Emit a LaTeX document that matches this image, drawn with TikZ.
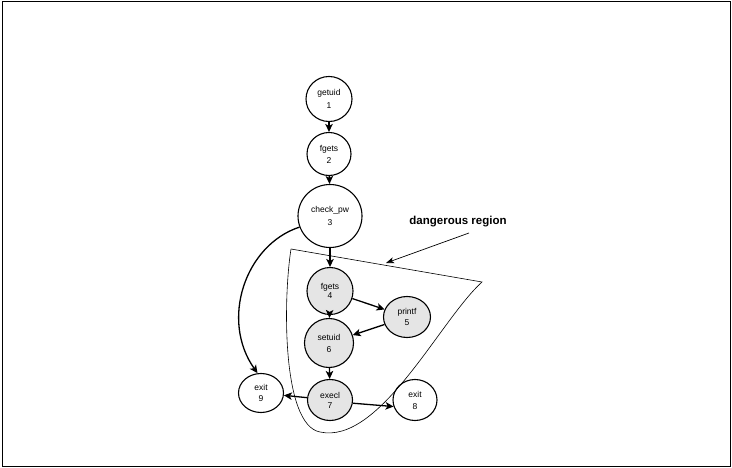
\documentclass[tikz,border=0pt]{standalone}
\usepackage{fontspec}
\setmainfont{Liberation Sans}
\usetikzlibrary{arrows.meta,shapes.geometric}

\begin{document}
\begin{tikzpicture}[x = 1pt, y = -1pt]
\tikzstyle{call}=[draw, ellipse, line width = 1.1pt, inner sep = 0pt, align = center, font = \fontsize{8.5}{12}\selectfont]
\tikzstyle{hot}=[call, fill = black!10]
\tikzstyle{arrow}=[-{Stealth[length = 8pt, width = 7.5pt, inset = 2pt]}, line width = 1.3pt]
\tikzstyle{pointer}=[-{Stealth[length = 8pt, width = 6pt, inset = 2pt]}, line width = 0.7pt]
\useasboundingbox (0,0) rectangle (732,468);
\draw [line width = 0.8pt] (2.5,1.5) rectangle (730.5,466.5);
% the call graph
\node (N1) [call, minimum width = 46pt, minimum height = 45pt] at (329, 99)  {getuid\\[1pt]1};
\node (N2) [call, minimum width = 44pt, minimum height = 43pt] at (329, 154) {fgets\\2};
\draw [arrow] (N1) -- (N2);
\node (N3) [call, minimum width = 64pt, minimum height = 63pt] at (330, 216) {check\_pw\\[1pt]3};
\draw [arrow] (N2) -- (N3);
\node (N4) [hot, minimum width = 46pt, minimum height = 47pt]  at (330, 291) {fgets\\[-3pt]4};
\draw [arrow] (N3) -- (N4);
\node (N5) [hot, minimum width = 47pt, minimum height = 41pt]  at (407, 317) {printf\\[-1pt]5};
\draw [arrow] (N4) -- (N5);
\node (N6) [hot, minimum width = 49pt, minimum height = 49pt]  at (329, 343) {setuid\\6};
\draw [arrow] (N4) -- (N6);
\draw [arrow] (N5) -- (N6);
\node (N7) [hot, minimum width = 45pt, minimum height = 41pt]  at (330, 400) {execl\\[-2pt]7};
\draw [arrow] (N6) -- (N7);
\node (N8) [call, minimum width = 44pt, minimum height = 41pt] at (415, 400) {exit\\8};
\draw [arrow] (N7.-8) -- (N8.197);
\node (N9) [call, minimum width = 45pt, minimum height = 39pt] at (261, 393) {exit\\[-1pt]9};
\draw [arrow] (N7) -- (N9);
\draw [arrow] (N3.200) .. controls (245, 245) and (220, 320) .. (N9.100);
% region around the risky calls
\draw [line width = 0.6pt] (291, 249) -- (482, 282)
  .. controls (440, 320) and (380, 445) .. (320, 432)
  .. controls (282, 425) and (283, 300) .. (291, 249);
\node (R) [font = \fontsize{11.5}{13}\selectfont\bfseries] at (458, 222) {dangerous region};
\coordinate (Rtail) at (469, 233);
\coordinate (Rtip) at (386, 263);
\draw [pointer] (Rtail) -- (Rtip);
\end{tikzpicture}
\end{document}
